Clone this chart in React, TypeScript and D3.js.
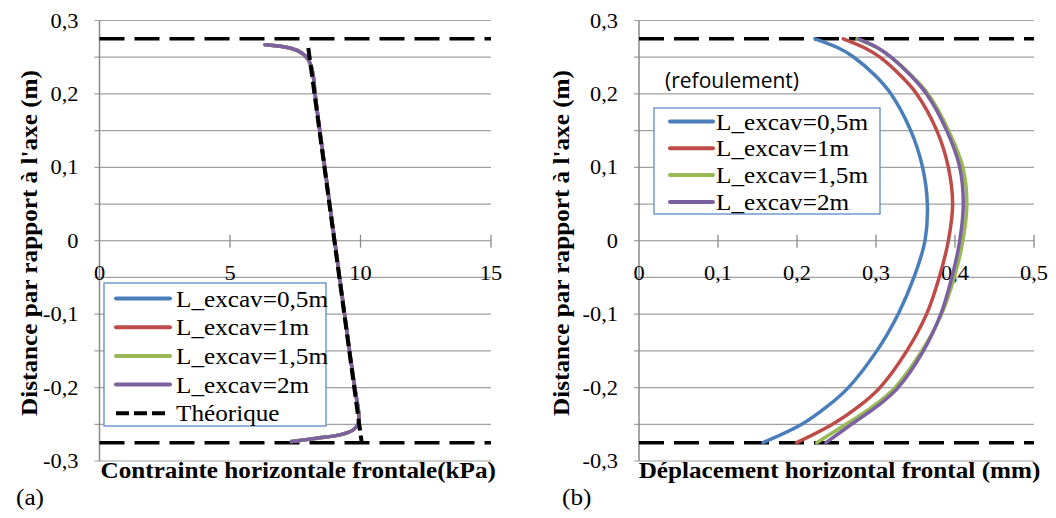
import React from 'react';
import * as d3 from 'd3';

// ---------- data ----------
const yTickValues = [0.3, 0.2, 0.1, 0, -0.1, -0.2, -0.3];
const yTickLabels = ['0,3', '0,2', '0,1', '0', '-0,1', '-0,2', '-0,3'];
const gridValues = [0.3, 0.25, 0.2, 0.15, 0.1, 0.05, 0, -0.05, -0.1, -0.15, -0.2, -0.25, -0.3];

const xTicksA = [0, 5, 10, 15];
const xLabelsA = ['0', '5', '10', '15'];
const xTicksB = [0, 0.1, 0.2, 0.3, 0.4, 0.5];
const xLabelsB = ['0', '0,1', '0,2', '0,3', '0,4', '0,5'];

const boundaryY = [0.275, -0.275];

const seriesNames = ['L_excav=0,5m', 'L_excav=1m', 'L_excav=1,5m', 'L_excav=2m'];
const seriesColors = ['#4a7ebb', '#be4b48', '#98b954', '#7d60a0'];
const theoName = 'Théorique';

// chart (a): contrainte horizontale frontale (kPa) vs distance (m)
const stressDepth = [0.267, 0.2625, 0.2557, 0.2467, 0.235, 0.222, 0.2, 0.15, 0.1, 0.05, 0, -0.05, -0.1, -0.15, -0.2, -0.235, -0.2485, -0.2576, -0.2644, -0.269, -0.2735];
const stress05 = [6.34, 7.3, 7.75, 8.0, 8.13, 8.2, 8.26, 8.44, 8.63, 8.82, 9.01, 9.2, 9.39, 9.58, 9.78, 9.93, 9.92, 9.72, 9.21, 8.32, 7.36];
const stress1 = [6.34, 7.3, 7.75, 8.0, 8.13, 8.2, 8.26, 8.44, 8.63, 8.82, 9.01, 9.2, 9.39, 9.58, 9.78, 9.93, 9.92, 9.72, 9.21, 8.32, 7.36];
const stress15 = [6.34, 7.3, 7.75, 8.0, 8.13, 8.2, 8.26, 8.44, 8.63, 8.82, 9.01, 9.2, 9.39, 9.58, 9.78, 9.93, 9.92, 9.72, 9.21, 8.32, 7.36];
const stress2 = [6.34, 7.3, 7.75, 8.0, 8.13, 8.2, 8.26, 8.44, 8.63, 8.82, 9.01, 9.2, 9.39, 9.58, 9.78, 9.93, 9.92, 9.72, 9.21, 8.32, 7.36];
const theoDepth = [0.2625, -0.276];
const theoStress = [8.0, 10.05];

// chart (b): déplacement horizontal frontal (mm) vs distance (m)
const dispDepth = [0.275, 0.2625, 0.25, 0.225, 0.2, 0.15, 0.1, 0.05, 0, -0.05, -0.1, -0.15, -0.2, -0.225, -0.25, -0.275];
const disp05 = [0.2228, 0.2525, 0.272, 0.299, 0.319, 0.344, 0.359, 0.365, 0.362, 0.348, 0.328, 0.301, 0.265, 0.239, 0.206, 0.157];
const disp1 = [0.2586, 0.286, 0.305, 0.331, 0.3515, 0.377, 0.3916, 0.397, 0.3916, 0.38, 0.364, 0.339, 0.305, 0.279, 0.245, 0.1996];
const disp15 = [0.276, 0.302, 0.319, 0.345, 0.366, 0.392, 0.41, 0.415, 0.41, 0.399, 0.383, 0.358, 0.324, 0.297, 0.262, 0.225];
const disp2 = [0.278, 0.3027, 0.319, 0.344, 0.364, 0.3895, 0.406, 0.4105, 0.406, 0.396, 0.382, 0.36, 0.328, 0.302, 0.269, 0.2367];

const stressSeries = [stress05, stress1, stress15, stress2];
const dispSeries = [disp05, disp1, disp15, disp2];

// ---------- helpers ----------
const SERIF = 'Liberation Serif, DejaVu Serif, serif';
const SANS = 'Open Sans, Liberation Sans, sans-serif';
const SX = 1.12;
const GRID = '#a0a0a0';
const AXIS = '#8a8a8a';

type TProps = { x: number; y: number; size: number; anchor?: string; bold?: boolean; rotate?: boolean; family?: string; stretch?: number; children: React.ReactNode };
function T({ x, y, size, anchor = 'start', bold = false, rotate = false, family = SERIF, stretch = SX, children }: TProps) {
  const tr = `translate(${x},${y})${rotate ? ' rotate(-90)' : ''} scale(${stretch},1)`;
  return (
    <text
      transform={tr}
      textAnchor={anchor as any}
      style={{ fontFamily: family, fontSize: size + 'px', fontWeight: bold ? 700 : 400 }}
      fill="#000"
    >
      {children}
    </text>
  );
}

const y = d3.scaleLinear().domain([-0.3, 0.3]).range([461, 20.5]);

type PanelProps = {
  x: d3.ScaleLinear<number, number>;
  xTicks: number[];
  xLabels: string[];
  series: number[][];
  depth: number[];
  title: string;
  tag: string;
  tagX: number;
  yTitleX: number;
  theo?: boolean;
};

function Panel({ x, xTicks, xLabels, series, depth, title, tag, tagX, yTitleX, theo }: PanelProps) {
  const [x0, x1] = x.range();
  const line = d3
    .line<[number, number]>()
    .x((d) => x(d[0]))
    .y((d) => y(d[1]))
    .curve(d3.curveCatmullRom.alpha(0.5));
  const straight = d3
    .line<[number, number]>()
    .x((d) => x(d[0]))
    .y((d) => y(d[1]));
  return (
    <g>
      {gridValues.map((g) => (
        <line key={'g' + g} x1={x0 - 5} x2={x1} y1={y(g)} y2={y(g)} stroke={g === 0 ? AXIS : GRID} strokeWidth={1.2} />
      ))}
      <line x1={x0} x2={x0} y1={y(0.3)} y2={y(-0.3)} stroke={AXIS} strokeWidth={1.5} />
      {xTicks.slice(1).map((t) => (
        <line key={'xt' + t} x1={x(t)} x2={x(t)} y1={y(0) - 6} y2={y(0) + 7} stroke={AXIS} strokeWidth={1.3} />
      ))}
      {yTickValues.map((v, i) => (
        <T key={'yl' + v} x={x0 - 21} y={y(v) + 7} size={20} anchor="end">
          {yTickLabels[i]}
        </T>
      ))}
      {xTicks.map((t, i) => (
        <T key={'xl' + t} x={x(t)} y={y(0) + 39} size={20} anchor="middle">
          {xLabels[i]}
        </T>
      ))}
      {boundaryY.map((b) => (
        <line key={'b' + b} x1={x0} x2={x1} y1={y(b)} y2={y(b)} stroke="#000" strokeWidth={3.5} strokeDasharray="25,10" />
      ))}
      {series.map((vals, i) => (
        <path
          key={'s' + i}
          d={line(vals.map((v, j) => [v, depth[j]] as [number, number])) || ''}
          fill="none"
          stroke={seriesColors[i]}
          strokeWidth={3.5}
          strokeLinecap="round"
        />
      ))}
      {theo && (
        <path
          d={straight(theoStress.map((v, j) => [v, theoDepth[j]] as [number, number])) || ''}
          fill="none"
          stroke="#000"
          strokeWidth={4}
          strokeDasharray="12,5"
        />
      )}
      <T x={(x0 + x1) / 2 + 3} y={478} size={22.5} anchor="middle" bold>
        {title}
      </T>
      <T x={yTitleX} y={243} size={22.5} anchor="middle" bold rotate>
        Distance par rapport à l'axe (m)
      </T>
      <T x={tagX} y={505} size={24} anchor="start" stretch={1.05}>
        {tag}
      </T>
    </g>
  );
}

type LegendProps = { x: number; y: number; w: number; h: number; rowY: number; rowStep: number; lineX1: number; lineX2: number; textX: number; theo?: boolean };
function Legend({ x, y: ly, w, h, rowY, rowStep, lineX1, lineX2, textX, theo }: LegendProps) {
  const names = theo ? [...seriesNames, theoName] : seriesNames;
  return (
    <g>
      <rect x={x} y={ly} width={w} height={h} fill="#fff" stroke="#5b8bc6" strokeWidth={1.3} />
      {names.map((n, i) => {
        const ry = rowY + i * rowStep;
        const isTheo = i >= seriesNames.length;
        return (
          <g key={n}>
            <line
              x1={lineX1}
              x2={lineX2}
              y1={ry}
              y2={ry}
              stroke={isTheo ? '#000' : seriesColors[i]}
              strokeWidth={4}
              strokeLinecap={isTheo ? 'butt' : 'round'}
              strokeDasharray={isTheo ? '13,5' : undefined}
            />
            <T x={textX} y={ry + 8} size={22.5}>
              {n}
            </T>
          </g>
        );
      })}
    </g>
  );
}

export default function App() {
  const xA = d3.scaleLinear().domain([0, 15]).range([99.5, 491]);
  const xB = d3.scaleLinear().domain([0, 0.5]).range([639, 1034]);
  return (
    <svg width={1056} height={518} style={{ position: 'absolute', left: 0, top: 0, background: '#fff' }}>
      <rect x={0} y={0} width={1056} height={518} fill="#fff" />
      <Panel
        x={xA}
        xTicks={xTicksA}
        xLabels={xLabelsA}
        series={stressSeries}
        depth={stressDepth}
        title="Contrainte horizontale frontale(kPa)"
        tag="(a)"
        tagX={16}
        yTitleX={37}
        theo
      />
      <Legend x={104} y={283} w={222} h={143} rowY={298.5} rowStep={28.7} lineX1={116} lineX2={170} textX={176} theo />
      <Panel
        x={xB}
        xTicks={xTicksB}
        xLabels={xLabelsB}
        series={dispSeries}
        depth={dispDepth}
        title="Déplacement horizontal frontal (mm)"
        tag="(b)"
        tagX={562}
        yTitleX={569}
      />
      <T x={665} y={88} size={21} family={SANS} stretch={1}>
        (refoulement)
      </T>
      <Legend x={654} y={108} w={226} h={106} rowY={121.5} rowStep={26.8} lineX1={670} lineX2={713} textX={716} />
    </svg>
  );
}
